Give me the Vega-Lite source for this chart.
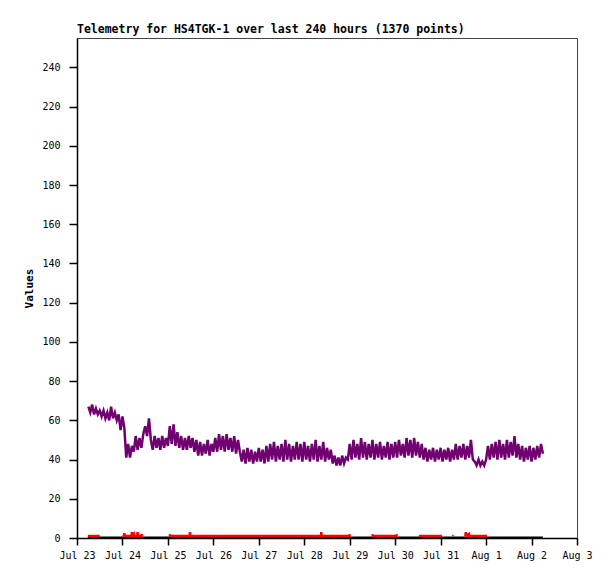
{
  "$schema": "https://vega.github.io/schema/vega-lite/v6.json",
  "width": 500,
  "height": 500,
  "autosize": "none",
  "padding": {"left": 77, "top": 38, "right": 38, "bottom": 41},
  "background": "white",
  "title": {
    "text": "Telemetry for HS4TGK-1 over last 240 hours (1370 points)",
    "anchor": "start",
    "frame": "group",
    "font": "DejaVu Sans Mono",
    "fontSize": 11.5,
    "fontWeight": "bold",
    "color": "black",
    "offset": 3
  },
  "datasets": {
    "black": [
      {"t": "2023-07-23T05:45", "v": 0},
      {"t": "2023-08-02T06:00", "v": 0}
    ],
    "red": [
      {"t": "2023-07-23T05:45", "g": 1, "v": 1},
      {"t": "2023-07-23T12:00", "g": 1, "v": 1},
      {"t": "2023-07-24T00:00", "g": 2, "v": 1},
      {"t": "2023-07-24T00:50", "g": 2, "v": 1},
      {"t": "2023-07-24T01:00", "g": 2, "v": 2.5},
      {"t": "2023-07-24T01:10", "g": 2, "v": 1},
      {"t": "2023-07-24T04:50", "g": 2, "v": 1},
      {"t": "2023-07-24T05:00", "g": 2, "v": 3},
      {"t": "2023-07-24T05:10", "g": 2, "v": 1},
      {"t": "2023-07-24T06:00", "g": 2, "v": 2},
      {"t": "2023-07-24T06:10", "g": 2, "v": 1},
      {"t": "2023-07-24T07:50", "g": 2, "v": 1},
      {"t": "2023-07-24T08:00", "g": 2, "v": 3},
      {"t": "2023-07-24T08:10", "g": 2, "v": 1},
      {"t": "2023-07-24T10:00", "g": 2, "v": 1},
      {"t": "2023-07-24T10:10", "g": 2, "v": 2},
      {"t": "2023-07-24T10:20", "g": 2, "v": 1},
      {"t": "2023-07-25T01:00", "g": 3, "v": 2},
      {"t": "2023-07-25T01:10", "g": 3, "v": 1},
      {"t": "2023-07-25T11:30", "g": 3, "v": 1},
      {"t": "2023-07-25T11:40", "g": 3, "v": 3},
      {"t": "2023-07-25T11:50", "g": 3, "v": 1},
      {"t": "2023-07-28T08:50", "g": 3, "v": 1},
      {"t": "2023-07-28T09:00", "g": 3, "v": 3},
      {"t": "2023-07-28T09:10", "g": 3, "v": 1},
      {"t": "2023-07-28T23:50", "g": 3, "v": 1},
      {"t": "2023-07-29T00:00", "g": 3, "v": 2},
      {"t": "2023-07-29T12:00", "g": 4, "v": 2},
      {"t": "2023-07-29T12:10", "g": 4, "v": 1},
      {"t": "2023-07-30T00:40", "g": 4, "v": 1},
      {"t": "2023-07-30T00:50", "g": 4, "v": 2},
      {"t": "2023-07-30T12:30", "g": 5, "v": 1},
      {"t": "2023-07-31T00:40", "g": 5, "v": 1},
      {"t": "2023-07-31T06:20", "g": 6, "v": 1},
      {"t": "2023-07-31T06:40", "g": 6, "v": 1.5},
      {"t": "2023-07-31T13:00", "g": 7, "v": 1},
      {"t": "2023-07-31T13:20", "g": 7, "v": 3},
      {"t": "2023-07-31T13:40", "g": 7, "v": 1},
      {"t": "2023-07-31T15:00", "g": 7, "v": 2},
      {"t": "2023-07-31T15:10", "g": 7, "v": 1},
      {"t": "2023-08-01T00:30", "g": 7, "v": 1}
    ],
    "purple": [
      {"t": "2023-07-23T06:00", "v": 67}, {"t": "2023-07-23T07:00", "v": 64}, {"t": "2023-07-23T08:00", "v": 68},
      {"t": "2023-07-23T09:00", "v": 63}, {"t": "2023-07-23T10:00", "v": 66}, {"t": "2023-07-23T11:00", "v": 63},
      {"t": "2023-07-23T12:00", "v": 65}, {"t": "2023-07-23T13:00", "v": 62}, {"t": "2023-07-23T14:00", "v": 65},
      {"t": "2023-07-23T15:00", "v": 61}, {"t": "2023-07-23T16:00", "v": 64}, {"t": "2023-07-23T17:00", "v": 60},
      {"t": "2023-07-23T18:00", "v": 67}, {"t": "2023-07-23T19:00", "v": 61}, {"t": "2023-07-23T20:00", "v": 64},
      {"t": "2023-07-23T21:00", "v": 60}, {"t": "2023-07-23T22:00", "v": 63}, {"t": "2023-07-23T23:00", "v": 55},
      {"t": "2023-07-24T00:00", "v": 62}, {"t": "2023-07-24T01:00", "v": 56}, {"t": "2023-07-24T02:00", "v": 41},
      {"t": "2023-07-24T03:00", "v": 48}, {"t": "2023-07-24T04:00", "v": 41}, {"t": "2023-07-24T05:00", "v": 47},
      {"t": "2023-07-24T06:00", "v": 44}, {"t": "2023-07-24T07:00", "v": 52}, {"t": "2023-07-24T08:00", "v": 45},
      {"t": "2023-07-24T09:00", "v": 51}, {"t": "2023-07-24T10:00", "v": 46}, {"t": "2023-07-24T11:00", "v": 53},
      {"t": "2023-07-24T12:00", "v": 57}, {"t": "2023-07-24T13:00", "v": 52}, {"t": "2023-07-24T14:00", "v": 61},
      {"t": "2023-07-24T15:00", "v": 50}, {"t": "2023-07-24T16:00", "v": 45}, {"t": "2023-07-24T17:00", "v": 52},
      {"t": "2023-07-24T18:00", "v": 46}, {"t": "2023-07-24T19:00", "v": 51}, {"t": "2023-07-24T20:00", "v": 45},
      {"t": "2023-07-24T21:00", "v": 52}, {"t": "2023-07-24T22:00", "v": 46}, {"t": "2023-07-24T23:00", "v": 51},
      {"t": "2023-07-25T00:00", "v": 47}, {"t": "2023-07-25T01:00", "v": 57}, {"t": "2023-07-25T02:00", "v": 48},
      {"t": "2023-07-25T03:00", "v": 58}, {"t": "2023-07-25T04:00", "v": 47}, {"t": "2023-07-25T05:00", "v": 54},
      {"t": "2023-07-25T06:00", "v": 46}, {"t": "2023-07-25T07:00", "v": 52}, {"t": "2023-07-25T08:00", "v": 45},
      {"t": "2023-07-25T09:00", "v": 51}, {"t": "2023-07-25T10:00", "v": 45}, {"t": "2023-07-25T11:00", "v": 52},
      {"t": "2023-07-25T12:00", "v": 46}, {"t": "2023-07-25T13:00", "v": 51}, {"t": "2023-07-25T14:00", "v": 44},
      {"t": "2023-07-25T15:00", "v": 50}, {"t": "2023-07-25T16:00", "v": 42}, {"t": "2023-07-25T17:00", "v": 49},
      {"t": "2023-07-25T18:00", "v": 42}, {"t": "2023-07-25T19:00", "v": 48}, {"t": "2023-07-25T20:00", "v": 43},
      {"t": "2023-07-25T21:00", "v": 50}, {"t": "2023-07-25T22:00", "v": 42}, {"t": "2023-07-25T23:00", "v": 48},
      {"t": "2023-07-26T00:00", "v": 44}, {"t": "2023-07-26T01:00", "v": 51}, {"t": "2023-07-26T02:00", "v": 44},
      {"t": "2023-07-26T03:00", "v": 53}, {"t": "2023-07-26T04:00", "v": 45}, {"t": "2023-07-26T05:00", "v": 52},
      {"t": "2023-07-26T06:00", "v": 44}, {"t": "2023-07-26T07:00", "v": 53}, {"t": "2023-07-26T08:00", "v": 45},
      {"t": "2023-07-26T09:00", "v": 51}, {"t": "2023-07-26T10:00", "v": 44}, {"t": "2023-07-26T11:00", "v": 52},
      {"t": "2023-07-26T12:00", "v": 43}, {"t": "2023-07-26T13:00", "v": 50}, {"t": "2023-07-26T14:00", "v": 44},
      {"t": "2023-07-26T15:00", "v": 39}, {"t": "2023-07-26T16:00", "v": 45}, {"t": "2023-07-26T17:00", "v": 38},
      {"t": "2023-07-26T18:00", "v": 46}, {"t": "2023-07-26T19:00", "v": 39}, {"t": "2023-07-26T20:00", "v": 45},
      {"t": "2023-07-26T21:00", "v": 38}, {"t": "2023-07-26T22:00", "v": 44}, {"t": "2023-07-26T23:00", "v": 39},
      {"t": "2023-07-27T00:00", "v": 46}, {"t": "2023-07-27T01:00", "v": 39}, {"t": "2023-07-27T02:00", "v": 45},
      {"t": "2023-07-27T03:00", "v": 38}, {"t": "2023-07-27T04:00", "v": 47}, {"t": "2023-07-27T05:00", "v": 39},
      {"t": "2023-07-27T06:00", "v": 48}, {"t": "2023-07-27T07:00", "v": 40}, {"t": "2023-07-27T08:00", "v": 49},
      {"t": "2023-07-27T09:00", "v": 39}, {"t": "2023-07-27T10:00", "v": 47}, {"t": "2023-07-27T11:00", "v": 40},
      {"t": "2023-07-27T12:00", "v": 48}, {"t": "2023-07-27T13:00", "v": 39}, {"t": "2023-07-27T14:00", "v": 50},
      {"t": "2023-07-27T15:00", "v": 40}, {"t": "2023-07-27T16:00", "v": 48}, {"t": "2023-07-27T17:00", "v": 39},
      {"t": "2023-07-27T18:00", "v": 47}, {"t": "2023-07-27T19:00", "v": 40}, {"t": "2023-07-27T20:00", "v": 49},
      {"t": "2023-07-27T21:00", "v": 40}, {"t": "2023-07-27T22:00", "v": 48}, {"t": "2023-07-27T23:00", "v": 39},
      {"t": "2023-07-28T00:00", "v": 49}, {"t": "2023-07-28T01:00", "v": 40}, {"t": "2023-07-28T02:00", "v": 47},
      {"t": "2023-07-28T03:00", "v": 39}, {"t": "2023-07-28T04:00", "v": 48}, {"t": "2023-07-28T05:00", "v": 40},
      {"t": "2023-07-28T06:00", "v": 50}, {"t": "2023-07-28T07:00", "v": 39}, {"t": "2023-07-28T08:00", "v": 47},
      {"t": "2023-07-28T09:00", "v": 40}, {"t": "2023-07-28T10:00", "v": 49}, {"t": "2023-07-28T11:00", "v": 39},
      {"t": "2023-07-28T12:00", "v": 46}, {"t": "2023-07-28T13:00", "v": 40}, {"t": "2023-07-28T14:00", "v": 45},
      {"t": "2023-07-28T15:00", "v": 38}, {"t": "2023-07-28T16:00", "v": 42}, {"t": "2023-07-28T17:00", "v": 37},
      {"t": "2023-07-28T18:00", "v": 41}, {"t": "2023-07-28T19:00", "v": 37}, {"t": "2023-07-28T20:00", "v": 42},
      {"t": "2023-07-28T21:00", "v": 38}, {"t": "2023-07-28T22:00", "v": 41}, {"t": "2023-07-28T23:00", "v": 40},
      {"t": "2023-07-29T00:00", "v": 48}, {"t": "2023-07-29T01:00", "v": 40}, {"t": "2023-07-29T02:00", "v": 50},
      {"t": "2023-07-29T03:00", "v": 41}, {"t": "2023-07-29T04:00", "v": 48}, {"t": "2023-07-29T05:00", "v": 40},
      {"t": "2023-07-29T06:00", "v": 51}, {"t": "2023-07-29T07:00", "v": 41}, {"t": "2023-07-29T08:00", "v": 49},
      {"t": "2023-07-29T09:00", "v": 40}, {"t": "2023-07-29T10:00", "v": 48}, {"t": "2023-07-29T11:00", "v": 41},
      {"t": "2023-07-29T12:00", "v": 50}, {"t": "2023-07-29T13:00", "v": 40}, {"t": "2023-07-29T14:00", "v": 48},
      {"t": "2023-07-29T15:00", "v": 41}, {"t": "2023-07-29T16:00", "v": 49}, {"t": "2023-07-29T17:00", "v": 40},
      {"t": "2023-07-29T18:00", "v": 47}, {"t": "2023-07-29T19:00", "v": 41}, {"t": "2023-07-29T20:00", "v": 49},
      {"t": "2023-07-29T21:00", "v": 40}, {"t": "2023-07-29T22:00", "v": 48}, {"t": "2023-07-29T23:00", "v": 41},
      {"t": "2023-07-30T00:00", "v": 49}, {"t": "2023-07-30T01:00", "v": 41}, {"t": "2023-07-30T02:00", "v": 50},
      {"t": "2023-07-30T03:00", "v": 42}, {"t": "2023-07-30T04:00", "v": 48}, {"t": "2023-07-30T05:00", "v": 41},
      {"t": "2023-07-30T06:00", "v": 51}, {"t": "2023-07-30T07:00", "v": 42}, {"t": "2023-07-30T08:00", "v": 50},
      {"t": "2023-07-30T09:00", "v": 41}, {"t": "2023-07-30T10:00", "v": 51}, {"t": "2023-07-30T11:00", "v": 42},
      {"t": "2023-07-30T12:00", "v": 49}, {"t": "2023-07-30T13:00", "v": 41}, {"t": "2023-07-30T14:00", "v": 48},
      {"t": "2023-07-30T15:00", "v": 40}, {"t": "2023-07-30T16:00", "v": 46}, {"t": "2023-07-30T17:00", "v": 39},
      {"t": "2023-07-30T18:00", "v": 45}, {"t": "2023-07-30T19:00", "v": 40}, {"t": "2023-07-30T20:00", "v": 46},
      {"t": "2023-07-30T21:00", "v": 39}, {"t": "2023-07-30T22:00", "v": 45}, {"t": "2023-07-30T23:00", "v": 40},
      {"t": "2023-07-31T00:00", "v": 46}, {"t": "2023-07-31T01:00", "v": 39}, {"t": "2023-07-31T02:00", "v": 45},
      {"t": "2023-07-31T03:00", "v": 40}, {"t": "2023-07-31T04:00", "v": 46}, {"t": "2023-07-31T05:00", "v": 39},
      {"t": "2023-07-31T06:00", "v": 45}, {"t": "2023-07-31T07:00", "v": 40}, {"t": "2023-07-31T08:00", "v": 48},
      {"t": "2023-07-31T09:00", "v": 40}, {"t": "2023-07-31T10:00", "v": 47}, {"t": "2023-07-31T11:00", "v": 41},
      {"t": "2023-07-31T12:00", "v": 48}, {"t": "2023-07-31T13:00", "v": 40}, {"t": "2023-07-31T14:00", "v": 47},
      {"t": "2023-07-31T15:00", "v": 41}, {"t": "2023-07-31T16:00", "v": 50}, {"t": "2023-07-31T17:00", "v": 40},
      {"t": "2023-07-31T18:00", "v": 39}, {"t": "2023-07-31T19:00", "v": 37}, {"t": "2023-07-31T20:00", "v": 40},
      {"t": "2023-07-31T21:00", "v": 37}, {"t": "2023-07-31T22:00", "v": 39}, {"t": "2023-07-31T23:00", "v": 37},
      {"t": "2023-08-01T00:00", "v": 40}, {"t": "2023-08-01T01:00", "v": 47}, {"t": "2023-08-01T02:00", "v": 40},
      {"t": "2023-08-01T03:00", "v": 48}, {"t": "2023-08-01T04:00", "v": 41}, {"t": "2023-08-01T05:00", "v": 49},
      {"t": "2023-08-01T06:00", "v": 40}, {"t": "2023-08-01T07:00", "v": 50}, {"t": "2023-08-01T08:00", "v": 41},
      {"t": "2023-08-01T09:00", "v": 48}, {"t": "2023-08-01T10:00", "v": 40}, {"t": "2023-08-01T11:00", "v": 50},
      {"t": "2023-08-01T12:00", "v": 41}, {"t": "2023-08-01T13:00", "v": 49}, {"t": "2023-08-01T14:00", "v": 42},
      {"t": "2023-08-01T15:00", "v": 52}, {"t": "2023-08-01T16:00", "v": 41}, {"t": "2023-08-01T17:00", "v": 48},
      {"t": "2023-08-01T18:00", "v": 40}, {"t": "2023-08-01T19:00", "v": 47}, {"t": "2023-08-01T20:00", "v": 39},
      {"t": "2023-08-01T21:00", "v": 46}, {"t": "2023-08-01T22:00", "v": 40}, {"t": "2023-08-01T23:00", "v": 47},
      {"t": "2023-08-02T00:00", "v": 39}, {"t": "2023-08-02T01:00", "v": 46}, {"t": "2023-08-02T02:00", "v": 40},
      {"t": "2023-08-02T03:00", "v": 47}, {"t": "2023-08-02T04:00", "v": 41}, {"t": "2023-08-02T05:00", "v": 48},
      {"t": "2023-08-02T06:00", "v": 43}
    ]
  },
  "encoding": {
    "x": {
      "field": "t",
      "type": "temporal",
      "scale": {
        "domain": [
          {"year": 2023, "month": "jul", "date": 23},
          {"year": 2023, "month": "aug", "date": 3}
        ]
      },
      "axis": {
        "title": null,
        "format": "%b %-d",
        "tickCount": {"interval": "day", "step": 1},
        "labelFlush": false,
        "labelOverlap": false,
        "labelPadding": 5
      }
    },
    "y": {
      "field": "v",
      "type": "quantitative",
      "scale": {"domain": [0, 255], "nice": false},
      "axis": {
        "title": "Values",
        "values": [0, 20, 40, 60, 80, 100, 120, 140, 160, 180, 200, 220, 240],
        "tickSize": 8,
        "labelPadding": 9,
        "titlePadding": 7
      }
    }
  },
  "layer": [
    {
      "data": {"name": "black"},
      "mark": {"type": "line", "color": "black", "strokeWidth": 3, "clip": true}
    },
    {
      "data": {"name": "red"},
      "mark": {"type": "line", "color": "#ff0000", "strokeWidth": 2.5, "clip": true},
      "encoding": {"detail": {"field": "g"}}
    },
    {
      "data": {"name": "purple"},
      "mark": {"type": "line", "color": "#700070", "strokeWidth": 2.5, "strokeJoin": "miter", "clip": true}
    }
  ],
  "config": {
    "view": {"stroke": "#444444", "strokeWidth": 1},
    "axis": {
      "grid": false,
      "labelFont": "DejaVu Sans Mono",
      "labelFontSize": 10,
      "labelColor": "black",
      "titleFont": "DejaVu Sans Mono",
      "titleFontSize": 11,
      "titleFontWeight": "bold",
      "titleColor": "black",
      "domainColor": "black",
      "tickColor": "black",
      "tickSize": 7,
      "domainWidth": 1.5,
      "tickWidth": 1.5
    }
  }
}
